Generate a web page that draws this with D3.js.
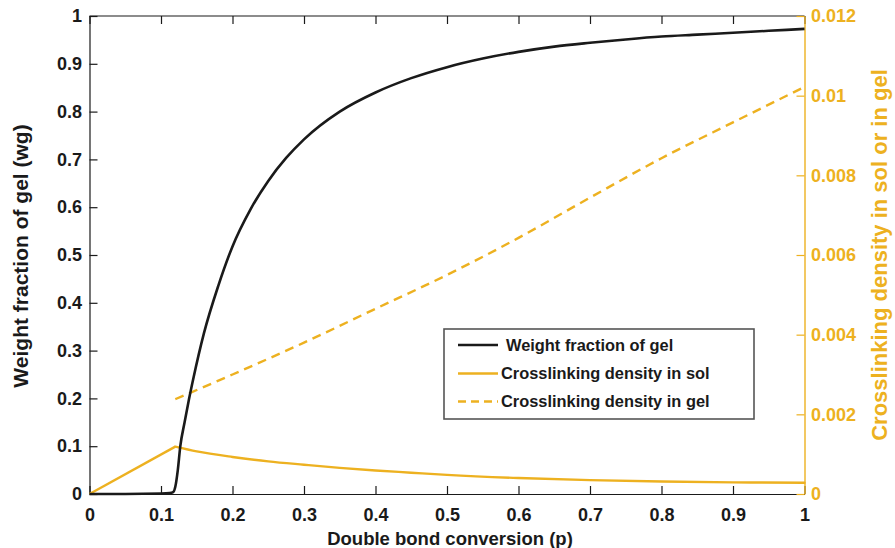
<!DOCTYPE html>
<html>
<head>
<meta charset="utf-8">
<script src="https://cdn.jsdelivr.net/npm/d3@7"></script>
<style>
  html, body { margin: 0; padding: 0; background: #fff; }
  svg { display: block; font-family: "Liberation Sans", Arial, sans-serif; }
</style>
</head>
<body>
<svg id="chart" width="895" height="548"></svg>
<script>
// ---- data ----
const xTicks = [0, 0.1, 0.2, 0.3, 0.4, 0.5, 0.6, 0.7, 0.8, 0.9, 1];
const leftTicks = [0, 0.1, 0.2, 0.3, 0.4, 0.5, 0.6, 0.7, 0.8, 0.9, 1];
const rightTicks = [0, 0.002, 0.004, 0.006, 0.008, 0.01, 0.012];

// Weight fraction of gel (left axis)
const gelP = [0, 0.05, 0.10, 0.112, 0.117, 0.12, 0.1235, 0.127, 0.133, 0.139, 0.145, 0.16, 0.18, 0.20, 0.225, 0.25, 0.275, 0.30, 0.35, 0.40, 0.45, 0.50, 0.55, 0.60, 0.65, 0.70, 0.75, 0.80, 0.85, 0.90, 0.95, 1.0];
const gelW = [0, 0, 0.001, 0.002, 0.004, 0.015, 0.05, 0.10, 0.15, 0.197, 0.24, 0.336, 0.435, 0.518, 0.595, 0.655, 0.703, 0.742, 0.800, 0.840, 0.870, 0.893, 0.911, 0.925, 0.936, 0.944, 0.951, 0.957, 0.961, 0.965, 0.969, 0.973];

// Crosslinking density in sol (right axis)
const solP = [0, 0.12, 0.15, 0.2, 0.25, 0.3, 0.35, 0.4, 0.45, 0.5, 0.6, 0.7, 0.8, 0.9, 1.0];
const solD = [0, 0.00119, 0.00107, 0.00093, 0.00082, 0.000735, 0.000655, 0.00059, 0.000535, 0.00048, 0.0004, 0.000348, 0.000312, 0.000292, 0.000282];

// Crosslinking density in gel (right axis)
const cgP = [0.12, 0.2, 0.3, 0.4, 0.5, 0.6, 0.7, 0.8, 0.9, 1.0];
const cgD = [0.00238, 0.00300, 0.00380, 0.00465, 0.00550, 0.00643, 0.00744, 0.00843, 0.00933, 0.01022];

const legendLabels = ["Weight fraction of gel", "Crosslinking density in sol", "Crosslinking density in gel"];

// ---- layout ----
const ORANGE = "#EDB120";
const INK = "#1a1a1a";
const L = 89.5, R = 804.5, T = 16, B = 494;
const FONT = "Liberation Sans, Arial, sans-serif";

const svg = d3.select("#chart");
const x = d3.scaleLinear().domain([0, 1]).range([L, R]);
const yL = d3.scaleLinear().domain([0, 1]).range([B, T]);
const yR = d3.scaleLinear().domain([0, 0.012]).range([B, T]);

const fmt = d => d === 0 ? "0" : String(+d.toFixed(3));

// top border line
svg.append("line").attr("x1", L).attr("x2", R).attr("y1", T).attr("y2", T)
  .attr("stroke", INK).attr("stroke-width", 1.2);

// top ticks (inward)
const topAxis = svg.append("g").attr("transform", `translate(0,${T})`)
  .call(d3.axisTop(x).tickValues(xTicks).tickSizeInner(-8).tickSizeOuter(0).tickFormat(""));
topAxis.select(".domain").remove();
topAxis.selectAll("line").attr("stroke", INK).attr("stroke-width", 1.2);

// bottom axis
const xAxis = svg.append("g").attr("transform", `translate(0,${B})`)
  .call(d3.axisBottom(x).tickValues(xTicks).tickSizeInner(-8).tickSizeOuter(0).tickPadding(14).tickFormat(fmt));
xAxis.select(".domain").attr("stroke", INK).attr("stroke-width", 1.2);
xAxis.selectAll("line").attr("stroke", INK).attr("stroke-width", 1.2);
xAxis.selectAll("text").attr("fill", INK).attr("font-size", 18).attr("font-weight", "bold")
  .attr("font-family", FONT);

// left axis
const yAxisL = svg.append("g").attr("transform", `translate(${L},0)`)
  .call(d3.axisLeft(yL).tickValues(leftTicks).tickSizeInner(-8).tickSizeOuter(0).tickPadding(7.5).tickFormat(fmt));
yAxisL.select(".domain").attr("stroke", INK).attr("stroke-width", 1.2);
yAxisL.selectAll("line").attr("stroke", INK).attr("stroke-width", 1.2);
yAxisL.selectAll("text").attr("fill", INK).attr("font-size", 18).attr("font-weight", "bold")
  .attr("font-family", FONT);

// right axis
const yAxisR = svg.append("g").attr("transform", `translate(${R},0)`)
  .call(d3.axisRight(yR).tickValues(rightTicks).tickSizeInner(-8).tickSizeOuter(0).tickPadding(6.5).tickFormat(fmt));
yAxisR.select(".domain").attr("stroke", ORANGE).attr("stroke-width", 1.4);
yAxisR.selectAll("line").attr("stroke", ORANGE).attr("stroke-width", 1.2);
yAxisR.selectAll("text").attr("fill", ORANGE).attr("font-size", 18).attr("font-weight", "bold")
  .attr("font-family", FONT);

// ---- series ----
const plot = svg.append("g");
const lineL = d3.line().x(d => x(d[0])).y(d => yL(d[1])).curve(d3.curveMonotoneX);
const lineR = d3.line().x(d => x(d[0])).y(d => yR(d[1])).curve(d3.curveMonotoneX);
const lineRlin = d3.line().x(d => x(d[0])).y(d => yR(d[1])).curve(d3.curveLinear);

const solPts = d3.zip(solP, solD);
plot.append("path").attr("d", lineRlin(solPts.slice(0, 2)))
  .attr("fill", "none").attr("stroke", ORANGE).attr("stroke-width", 2.4);
plot.append("path").attr("d", lineR(solPts.slice(1)))
  .attr("fill", "none").attr("stroke", ORANGE).attr("stroke-width", 2.4).attr("stroke-linecap", "round");

plot.append("path").attr("d", lineR(d3.zip(cgP, cgD)))
  .attr("fill", "none").attr("stroke", ORANGE).attr("stroke-width", 2.4)
  .attr("stroke-dasharray", "9,6");

plot.append("path").attr("d", lineL(d3.zip(gelP, gelW)))
  .attr("fill", "none").attr("stroke", INK).attr("stroke-width", 2.6).attr("stroke-linejoin", "round");

// ---- axis titles ----
svg.append("text").attr("transform", `translate(28,256) rotate(-90)`)
  .attr("text-anchor", "middle").attr("font-size", 21).attr("font-weight", "bold").attr("fill", INK)
  .text("Weight fraction of gel (wg)");
svg.append("text").attr("transform", `translate(887,255) rotate(-90)`)
  .attr("text-anchor", "middle").attr("font-size", 22).attr("font-weight", "bold").attr("fill", ORANGE)
  .text("Crosslinking density in sol or in gel");
svg.append("text").attr("x", 450).attr("y", 545)
  .attr("text-anchor", "middle").attr("font-size", 18.5).attr("font-weight", "bold").attr("fill", INK)
  .text("Double bond conversion (p)");

// ---- legend ----
const lg = svg.append("g");
lg.append("rect").attr("x", 444).attr("y", 329).attr("width", 310).attr("height", 90)
  .attr("fill", "#fff").attr("stroke", "#555").attr("stroke-width", 1.6);
const rowsY = [345, 373.5, 401.5];
const styles = [
  {stroke: INK, dash: null, tx: 506},
  {stroke: ORANGE, dash: null, tx: 501},
  {stroke: ORANGE, dash: "8,5", tx: 501}
];
legendLabels.forEach((lab, i) => {
  lg.append("line").attr("x1", 458).attr("x2", 498).attr("y1", rowsY[i]).attr("y2", rowsY[i])
    .attr("stroke", styles[i].stroke).attr("stroke-width", 2.4)
    .attr("stroke-dasharray", styles[i].dash);
  lg.append("text").attr("x", styles[i].tx).attr("y", rowsY[i]).attr("dy", "0.35em")
    .attr("font-size", 16.4).attr("font-weight", "bold").attr("fill", INK).text(lab);
});
</script>
</body>
</html>
